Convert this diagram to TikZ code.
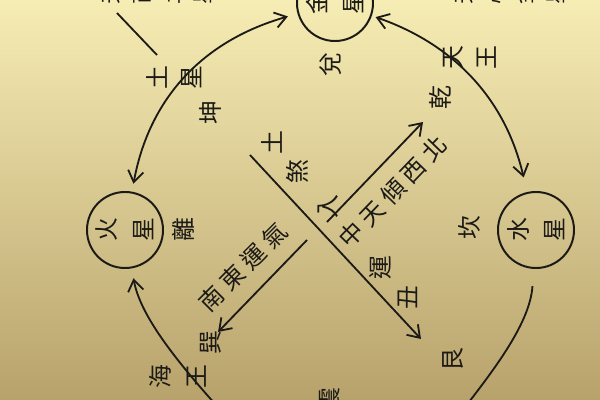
\documentclass[tikz,border=0pt]{standalone}
\usepackage{fontspec}
\newfontfamily\cjk{Noto Sans CJK TC}
\newfontfamily\cjkwide[LetterSpace=25]{Noto Sans CJK TC}
\usetikzlibrary{arrows.meta}
\definecolor{paper}{HTML}{F6EDB4}
\definecolor{papermid}{HTML}{E8DA9E}
\definecolor{paperdark}{HTML}{B8A26C}
\definecolor{ink}{HTML}{1C1A16}

\begin{document}
\begin{tikzpicture}[x=0.025cm,y=-0.025cm,
  planet/.style={circle, draw=ink, line width=1.4pt, minimum size=1.9cm,
                 inner sep=0pt, rotate=90, align=center, text=ink,
                 font=\cjk\fontsize{17}{26}\selectfont},
  glyph/.style={rotate=90, align=center, inner sep=0pt, text=ink,
                font=\cjk\fontsize{17}{24}\selectfont},
  slant/.style={inner sep=0pt, text=ink,
                font=\cjkwide\fontsize{17}{17}\selectfont},
  orbit/.style={draw=ink, line width=1.3pt},
  barb/.style={-{Straight Barb[length=8pt,width=11pt]}},
  twobarb/.style={{Straight Barb[length=8pt,width=11pt]}-{Straight Barb[length=8pt,width=11pt]}}]

\useasboundingbox (0,0) rectangle (600,400);
\shade[top color=paper, middle color=papermid, bottom color=paperdark]
  (0,0) rectangle (600,400);
\clip (0,0) rectangle (600,400);

% planets
\node[planet] (jin)  at (335,3)   {金\\星};
\node[planet] (huo)  at (125,230) {火\\星};
\node[planet] (shui) at (536,230) {水\\星};

% trigrams
\node[glyph] (kun)  at (210,113) {坤};
\node[glyph] (dui)  at (331,65)  {兌};
\node[glyph] (qian) at (440,98)  {乾};
\node[glyph] (li)   at (183,230) {離};
\node[glyph] (kan)  at (469,228) {坎};
\node[glyph] (xun)  at (211,343) {巽};
\node[glyph] (gen)  at (453,360) {艮};
\node[glyph] (zhen) at (330,400) {震};

% orbit labels
\node[glyph] (tuxing)   at (174,78)  {土\\星};
\node[glyph] (tianwang) at (470,58)  {天\\王};
\node[glyph, font=\cjk\fontsize{17}{26}\selectfont] (haiwang) at (178,377) {海\\王};

% notes cut by the top edge
\node[glyph, font=\cjk\fontsize{15}{22}\selectfont] (notel) at (157,-6) {天\\芮\\土\\星};
\node[glyph, font=\cjk\fontsize{15}{22}\selectfont] (noter) at (510,-6) {天\\心\\金\\星};

% the long line
\node[glyph] (tu)  at (272,143) {土};
\node[glyph] (sha) at (297,172) {煞};
\node[glyph] (ru)  at (328,207) {入};
\node[glyph] (yun) at (380,268) {運};
\node[glyph] (chou) at (408,298) {丑};

% slanted sayings
\node[slant, rotate=46] (tianqing) at (393,192) {中天傾西北};
\node[slant, rotate=45] (yunqi)    at (243,267) {南東運氣};

% straight lines
\coordinate (sha0) at (250,155);
\coordinate (sha1) at (421,339);
\draw[orbit, barb] (sha0) -- (sha1);
\coordinate (qb0) at (327,222);
\coordinate (qb1) at (423,122);
\draw[orbit, barb] (qb0) -- (qb1);
\coordinate (dn0) at (307,240);
\coordinate (dn1) at (218,332);
\draw[orbit, barb] (dn0) -- (dn1);
\coordinate (note0) at (117,13);
\coordinate (note1) at (157,55);
\draw[orbit] (note0) -- (note1);

% orbits
\draw[orbit, twobarb, shorten <=0.25cm, shorten >=0.2cm]
  (jin) .. controls (202,41) and (149,99) .. (huo);
\draw[orbit, twobarb, shorten <=0.1cm, shorten >=0.375cm]
  (jin) .. controls (453,44) and (505,98) .. (shui);
\coordinate (hw) at (225,415);
\draw[orbit, barb, shorten >=0.25cm]
  (hw) .. controls (175,360) and (140,315) .. (huo);
\coordinate (se) at (455,420);
\draw[orbit, shorten <=0.43cm]
  (shui) .. controls (530,325) and (490,375) .. (se);

\end{tikzpicture}
\end{document}
